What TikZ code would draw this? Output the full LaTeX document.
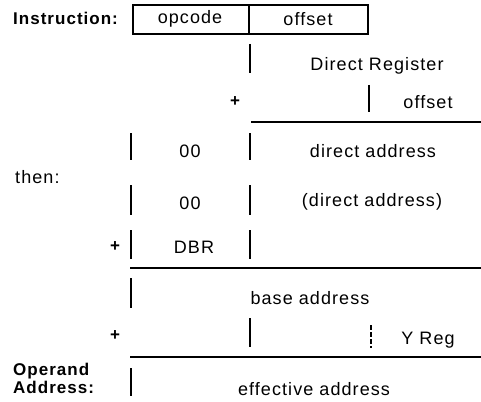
\documentclass[tikz,border=0pt]{standalone}
\usepackage{fontspec}
\setmainfont{Liberation Sans}[LetterSpace=6]
\begin{document}
\begin{tikzpicture}[x=1pt,y=-1pt,
  txt/.style={inner sep=0pt,font=\fontsize{18}{20}\selectfont},
  lbl/.style={inner sep=0pt,anchor=west,font=\fontsize{17}{19}\selectfont\bfseries},
  plus/.style={inner sep=0pt,font=\fontsize{17}{19}\selectfont\bfseries},
  bar/.style={line width=1.3pt},
  rule/.style={line width=1.8pt},
  box/.style={line width=1.3pt}]
\useasboundingbox (0,0) rectangle (481,401);
% instruction
\node[lbl] (instr) at (13,18) {Instruction:};
\draw[box] (133,5) rectangle (368,34);
\draw[box] (249,5) -- (249,34);
\node[txt] (opc) at (190,19) {opcode};
\node[txt] (off1) at (308,19) {offset};
% direct register + offset
\draw[bar] (250,44) -- (250,73);
\node[txt] (dreg) at (377,66) {Direct Register};
\node[plus] (p1) at (235,102) {+};
\draw[bar] (369,85) -- (369,112);
\node[txt] (off2) at (428,102) {offset};
\draw[rule] (251,122) -- (481,122);
% then rows
\node[txt,anchor=west] (then) at (15,177) {then:};
\draw[bar] (131,133) -- (131,160);
\draw[bar] (250,133) -- (250,160);
\node[txt] (z1) at (190,151) {00};
\node[txt] (da) at (373,151) {direct address};
\draw[bar] (131,185) -- (131,215);
\draw[bar] (250,185) -- (250,215);
\node[txt] (z2) at (190,203) {00};
\node[txt] (ida) at (372,202) {(direct address)};
\node[plus] (p2) at (115,247) {+};
\draw[bar] (131,230) -- (131,259);
\draw[bar] (250,230) -- (250,259);
\node[txt] (dbr) at (194,247) {DBR};
\draw[rule] (130,268) -- (481,268);
% base address
\draw[bar] (131,278) -- (131,308);
\node[txt] (ba) at (310,298) {base address};
\node[plus] (p3) at (115,336) {+};
\draw[bar] (250,318) -- (250,347);
\draw[bar,dash pattern=on 5pt off 2pt] (371,325) -- (371,348);
\node[txt] (yreg) at (428,340) {Y Reg};
\draw[rule] (130,357) -- (481,357);
% operand address
\node[lbl] (op) at (13,371) {Operand};
\node[lbl] (ad) at (13,387) {Address:};
\draw[bar] (131,368) -- (131,396);
\node[txt] (ea) at (314,389) {effective address};
\end{tikzpicture}
\end{document}
